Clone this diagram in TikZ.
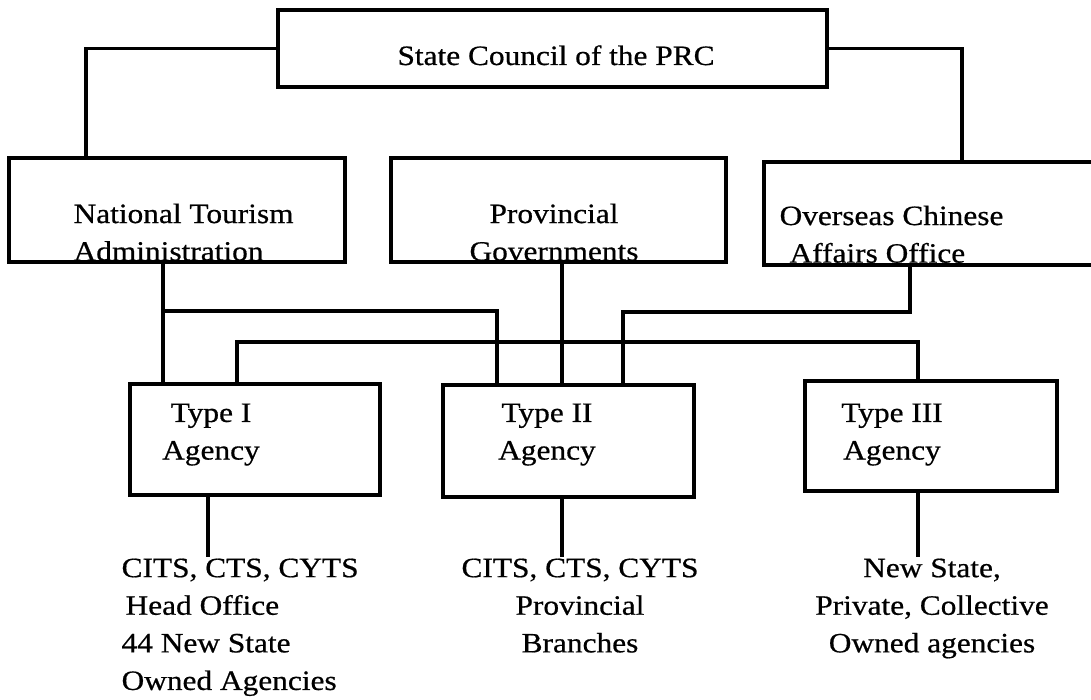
\documentclass[tikz,border=0pt]{standalone}
\usepackage{fontspec}
\setmainfont{Liberation Serif}[FakeStretch=1.12, FakeBold=0.6]
\begin{document}
\begin{tikzpicture}[x=0.5pt, y=-0.5pt, line width=1.6pt,
  box/.style={draw, rectangle, inner sep=0pt},
  txt/.style={inner sep=0pt, font=\fontsize{14}{18.8}\selectfont}]

  % Kaesten, Beschriftungen und Linien des Organigramms
  \useasboundingbox (0,0) rectangle (1091,700);
  \coordinate (xsc) at (552.5, 48.5);
  \coordinate (xnta) at (177, 210);
  \coordinate (xprov) at (558.5, 210);
  \coordinate (xoca) at (930, 213.5);
  \coordinate (xt1) at (255, 439.5);
  \coordinate (xt2) at (568.5, 441);
  \coordinate (xt3) at (931, 436);
  \coordinate (k1) at (86, 0);
  \coordinate (k2) at (962, 0);
  \coordinate (k3) at (163, 0);
  \coordinate (k4) at (497, 0);
  \coordinate (k5) at (562, 0);
  \coordinate (k6) at (623, 0);
  \coordinate (k7) at (910, 0);
  \coordinate (k8) at (237, 0);
  \coordinate (k9) at (918, 0);
  \coordinate (k10) at (208, 0);
  \coordinate (h1) at (0, 311);
  \coordinate (h2) at (0, 312);
  \coordinate (h3) at (0, 342);
  \node[box, minimum width=274.5pt, minimum height=38.5pt] (sc) at (xsc) {};
  \node[box, minimum width=168pt, minimum height=52pt] (nta) at (xnta) {};
  \node[box, minimum width=167.5pt, minimum height=52pt] (prov) at (xprov) {};
  \node[box, minimum width=166pt, minimum height=51.5pt] (oca) at (xoca) {};
  \node[box, minimum width=125pt, minimum height=55.5pt] (t1) at (xt1) {};
  \node[box, minimum width=125.5pt, minimum height=56pt] (t2) at (xt2) {};
  \node[box, minimum width=126pt, minimum height=55pt] (t3) at (xt3) {};
  \node[txt, anchor=base] (tsc) at (556, 65) {State Council of the PRC};
  \node[txt, anchor=north west, align=left] (tnta) at (72, 202) {National Tourism\\Administration};
  \node[txt, anchor=north, align=center] (tprov) at (554, 202) {Provincial\\Governments};
  \node[txt, anchor=north west, align=left] (toca) at (778, 204) {Overseas Chinese\\\hspace*{5pt}Affairs Office};
  \node[txt, anchor=north, align=center] (tt1) at (211, 402) {Type I\\Agency};
  \node[txt, anchor=north, align=center] (tt2) at (547, 402) {Type II\\Agency};
  \node[txt, anchor=north, align=center] (tt3) at (892, 402) {Type III\\Agency};
  \node[txt, anchor=north west, align=left] (c1) at (120, 557) {CITS, CTS, CYTS\\\hspace*{2pt}Head Office\\44 New State\\Owned Agencies};
  \node[txt, anchor=north, align=center] (c2) at (580, 557) {CITS, CTS, CYTS\\Provincial\\Branches};
  \node[txt, anchor=north, align=center] (c3) at (932, 557) {New State,\\Private, Collective\\Owned agencies};
  \draw (sc.west) -| (k1 |- nta.north);
  \draw (sc.east) -| (k2 |- oca.north);
  \draw (k3 |- nta.south) -- (k3 |- t1.north);
  \draw (k3 |- h1) -| (k4 |- t2.north);
  \draw (k5 |- prov.south) -- (k5 |- t2.north);
  \draw (k7 |- oca.south) |- (k6 |- h2) -- (k6 |- t2.north);
  \draw (k8 |- t1.north) |- (k9 |- h3) -- (k9 |- t3.north);
  \draw (k10 |- t1.south) -- (k10 |- c1.north);
  \draw (k5 |- t2.south) -- (k5 |- c2.north);
  \draw (k9 |- t3.south) -- (k9 |- c3.north);

\end{tikzpicture}
\end{document}
